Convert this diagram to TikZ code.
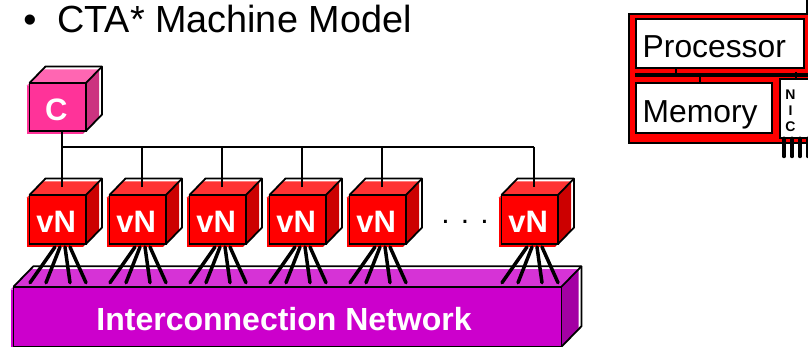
\documentclass[tikz,border=0pt]{standalone}
\usepackage{fontspec}
\usetikzlibrary{calc}
\setmainfont{Liberation Sans}
\definecolor{redfront}{HTML}{FF0000}
\definecolor{redtop}{HTML}{FF3333}
\definecolor{redside}{HTML}{CC0000}
\definecolor{pinkfront}{HTML}{FF3399}
\definecolor{pinktop}{HTML}{FF66B2}
\definecolor{pinkside}{HTML}{CC3380}
\definecolor{netfront}{HTML}{CC00CC}
\definecolor{nettop}{HTML}{D633D6}
\definecolor{netside}{HTML}{A300A3}
\tikzset{
	facebox/.style={draw=black,line width=1.8pt,inner sep=0pt,outer sep=0pt,anchor=north west},
	facetext/.style={text=white,inner sep=0pt,font=\bfseries\fontsize{31}{31}\selectfont},
	edgeline/.style={black,line width=1.8pt,line join=round},
	busline/.style={black,line width=1.9pt},
	legline/.style={black,line width=3.5pt,line cap=round},
	whitebox/.style={draw=black,line width=1.9pt,fill=white,inner sep=0pt,outer sep=0pt,anchor=north west},
}
% name, x, y, width, height, depth, colour
\newcommand{\cubebox}[7]{
	\fill[#7front] (#2-3,#3+3) rectangle ++(#4,#5);
	\fill[#7top] (#2-3,#3+3) -- ++(#6,-#6-0.5) -- ++(#4,0) -- ++(-#6,#6+0.5) -- cycle;
	\fill[#7side] (#2+#4-3,#3+3) -- ++(#6,-#6-0.5) -- ++(0,#5) -- ++(-#6,#6+0.5) -- cycle;
	\fill[#7front] (#2,#3) rectangle ++(#4,#5);
	\draw[edgeline] (#2,#3) -- ++(#6,-#6-0.5) -- ++(#4,0) -- ++(0,#5) -- ++(-#6,#6+0.5);
	\draw[edgeline] (#2+#4,#3) -- ++(#6,-#6-0.5);
	\node[facebox,minimum width=#4,minimum height=#5] (#1) at (#2,#3) {};
}
\begin{document}
\begin{tikzpicture}[x=1pt,y=-1pt]
	\clip (0,0) rectangle (808,347);
	\node[anchor=base west,font=\fontsize{37.8}{37.8}\selectfont,inner sep=0pt] (title) at (57,33) {CTA* Machine Model};
	\node[anchor=base,font=\fontsize{37.5}{37.5}\selectfont,inner sep=0pt] (bullet) at (30,33) {•};
	
	\cubebox{c}{29.5}{83}{56.5}{48}{16}{pink}
	\node[facetext] (ctext) at ($(c.center)+(-1.5,2.5)$) {C};
	\coordinate (c-down) at (62,131);
	\foreach \n/\xx in {1/29.5,2/109.5,3/189.5,4/269.5,5/349.5,6/501.5}{
		\cubebox{vN\n}{\xx}{195}{56.5}{49}{16}{red}
		\node[facetext] (vNtext\n) at ($(vN\n.center)+(-1.5,2.5)$) {vN};
		\coordinate (vN\n-up) at (\xx+32.5,186.7);
	}
	\cubebox{net}{13.5}{286.7}{548}{60}{20}{net}
	\node[facetext,font=\bfseries\fontsize{32}{32}\selectfont] (nettext) at ($(net.center)+(-3.5,2.5)$) {Interconnection Network};
	\node[anchor=base,font=\fontsize{30}{30}\selectfont,inner sep=0pt] (dots) at (465,224) {. . .};
	
	% bus above the nodes
	\coordinate (busL) at (62,146.7);
	\coordinate (busR) at (534,146.7);
	\draw[busline] (busL) -- (busR);
	\draw[busline] (c-down) -- (vN1-up);
	\foreach \n in {2,...,6}
		\draw[busline] (busL -| vN\n-up) -- (vN\n-up);
	
	% legs down to the network
	\foreach \n/\xx in {1/29.5,2/109.5,3/189.5,4/269.5,5/349.5,6/501.5}
		\foreach \j/\up/\dn in {1/25.5/0.5,2/30.5/16.5,3/35.5/40.5,4/40.5/56.5}{
			\coordinate (up\n\j) at (\xx+\up,247);
			\coordinate (dn\n\j) at (\xx+\dn,282.7);
			\draw[legline] (up\n\j) -- (dn\n\j);
		}
	
	% board on the right
	\node[facebox,fill=red,minimum width=220,minimum height=129] (board) at (629.3,13.7) {};
	\node[whitebox,minimum width=168.3,minimum height=49.3] (proc) at (635.7,19) {};
	\node[whitebox,minimum width=136.3,minimum height=50] (mem) at (635.7,82.7) {};
	\node[anchor=base west,inner sep=0pt,font=\fontsize{31.8}{31.8}\selectfont] (proctext) at (642.5,58) {Processor};
	\node[anchor=base west,inner sep=0pt,font=\fontsize{31.8}{31.8}\selectfont] (memtext) at (642.5,122.5) {Memory};
	\coordinate (rambusL) at (635,75);
	\coordinate (rambusR) at (808,75);
	\draw[black,line width=3.2pt] (rambusL) -- (rambusR);
	\coordinate (procdown) at (676,75);
	\coordinate (memup) at (700,75);
	\coordinate (nicup) at (796,72);
	\node[whitebox,minimum width=60,minimum height=59.3] (nic) at (780,79) {};
	\draw[busline] (proc.south -| procdown) -- (procdown);
	\draw[busline] (memup) -- (mem.north -| memup);
	\draw[busline] (nicup) -- (nic.north -| nicup);
	\node[anchor=center,inner sep=0pt,align=center,font=\bfseries\fontsize{14}{16}\selectfont] (nictext) at (790.5,111) {N\\I\\C};
	\foreach \xx in {784,792,800,808}{
		\coordinate (pin\xx) at (\xx,156.5);
		\draw[legline] (nic.south -| pin\xx) -- (pin\xx);
	}
	\coordinate (boardin) at (807.3,0);
	\draw[busline] (boardin) -- (boardin |- board.north);
\end{tikzpicture}
\end{document}
